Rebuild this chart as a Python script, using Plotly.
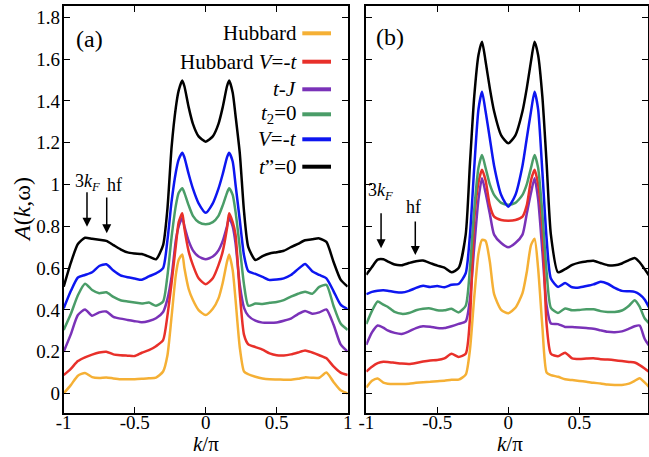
import plotly.graph_objects as go

W, H = 649, 457

# ---------------- panel (a) data ----------------
k_a = [-1, -0.95, -0.9, -0.85, -0.8, -0.75, -0.7, -0.65, -0.6, -0.55, -0.5, -0.45, -0.4, -0.35,
       -0.3, -0.27, -0.24, -0.21, -0.19, -0.165, -0.15, -0.12, -0.09, -0.05, 0,
       0.05, 0.09, 0.12, 0.15, 0.165, 0.19, 0.21, 0.24, 0.27, 0.3, 0.35, 0.4, 0.45, 0.5,
       0.55, 0.6, 0.65, 0.7, 0.75, 0.8, 0.85, 0.9, 0.95, 1.0]

hub_a = [0.0, 0.04, 0.085, 0.098, 0.078, 0.074, 0.077, 0.072, 0.068, 0.068, 0.068, 0.07, 0.073, 0.076,
         0.105, 0.18, 0.37, 0.57, 0.64, 0.665, 0.6, 0.5, 0.447, 0.399, 0.375,
         0.405, 0.455, 0.53, 0.63, 0.665, 0.59, 0.45, 0.22, 0.105, 0.092, 0.08, 0.072, 0.068, 0.067,
         0.066, 0.066, 0.07, 0.077, 0.075, 0.075, 0.1, 0.055, 0.015, 0.0]

hubV_a = [0.088, 0.118, 0.155, 0.173, 0.186, 0.196, 0.2, 0.187, 0.183, 0.181, 0.179, 0.195, 0.207, 0.226,
          0.255, 0.37, 0.53, 0.71, 0.82, 0.862, 0.79, 0.68, 0.614, 0.551, 0.523,
          0.551, 0.614, 0.68, 0.79, 0.862, 0.82, 0.76, 0.48, 0.28, 0.235, 0.222, 0.21, 0.192, 0.183,
          0.182, 0.187, 0.196, 0.206, 0.196, 0.183, 0.168, 0.13, 0.1, 0.088]

tJ_a = [0.2, 0.283, 0.375, 0.402, 0.372, 0.388, 0.392, 0.367, 0.358, 0.352, 0.346, 0.341, 0.347, 0.36,
        0.39, 0.45, 0.56, 0.735, 0.8, 0.84, 0.8, 0.73, 0.685, 0.655, 0.642,
        0.655, 0.685, 0.73, 0.8, 0.84, 0.8, 0.72, 0.52, 0.41, 0.372, 0.348, 0.339, 0.338, 0.34,
        0.348, 0.358, 0.38, 0.395, 0.382, 0.388, 0.402, 0.33, 0.235, 0.2]

t2_a = [0.304, 0.38, 0.47, 0.525, 0.495, 0.48, 0.484, 0.462, 0.446, 0.44, 0.435, 0.43, 0.435, 0.42,
        0.44, 0.56, 0.75, 0.9, 0.96, 0.982, 0.96, 0.9, 0.85, 0.82, 0.81,
        0.82, 0.85, 0.9, 0.96, 0.982, 0.95, 0.87, 0.7, 0.52, 0.42, 0.43, 0.428, 0.434, 0.438,
        0.447, 0.463, 0.477, 0.487, 0.477, 0.51, 0.52, 0.42, 0.335, 0.304]

V_a = [0.407, 0.49, 0.555, 0.567, 0.58, 0.61, 0.618, 0.588, 0.565, 0.556, 0.55, 0.544, 0.56, 0.575,
       0.6, 0.73, 0.92, 1.06, 1.12, 1.152, 1.13, 1.05, 0.98, 0.91, 0.865,
       0.91, 0.98, 1.05, 1.13, 1.152, 1.11, 1.0, 0.83, 0.66, 0.585, 0.572, 0.558, 0.543, 0.545,
       0.551, 0.567, 0.595, 0.62, 0.585, 0.567, 0.551, 0.49, 0.425, 0.403]

tpp_a = [0.511, 0.625, 0.715, 0.745, 0.74, 0.735, 0.73, 0.71, 0.69, 0.675, 0.67, 0.667, 0.655, 0.642,
         0.71, 0.88, 1.18, 1.37, 1.45, 1.497, 1.47, 1.37, 1.29, 1.23, 1.205,
         1.23, 1.29, 1.37, 1.47, 1.497, 1.44, 1.33, 1.15, 0.87, 0.7, 0.639, 0.657, 0.67, 0.676,
         0.683, 0.7, 0.716, 0.733, 0.738, 0.742, 0.725, 0.63, 0.545, 0.511]

# ---------------- panel (b) data ----------------
k_b = [-1, -0.96, -0.92, -0.88, -0.85, -0.8, -0.75, -0.7, -0.65, -0.6, -0.55, -0.5, -0.45, -0.4, -0.35,
       -0.3, -0.27, -0.24, -0.21, -0.185, -0.16, -0.13, -0.1, -0.05, 0,
       0.05, 0.1, 0.13, 0.16, 0.185, 0.21, 0.24, 0.27, 0.3, 0.35, 0.4, 0.45, 0.5, 0.55,
       0.6, 0.65, 0.7, 0.75, 0.8, 0.85, 0.89, 0.925, 0.96, 1.0]

hub_b = [0.029, 0.061, 0.072, 0.052, 0.047, 0.045, 0.045, 0.047, 0.051, 0.054, 0.056, 0.059, 0.061, 0.066, 0.066,
         0.09, 0.21, 0.46, 0.67, 0.735, 0.73, 0.63, 0.475, 0.40, 0.384,
         0.41, 0.48, 0.58, 0.71, 0.74, 0.6, 0.32, 0.1, 0.088, 0.08, 0.068, 0.064, 0.06, 0.056,
         0.051, 0.048, 0.043, 0.041, 0.041, 0.047, 0.06, 0.073, 0.053, 0.025]

hubV_b = [0.105, 0.128, 0.145, 0.152, 0.151, 0.147, 0.143, 0.141, 0.146, 0.153, 0.158, 0.16, 0.168, 0.19, 0.175,
          0.19, 0.36, 0.83, 1.01, 1.07, 1.02, 0.9, 0.846, 0.83, 0.827,
          0.83, 0.846, 0.9, 1.02, 1.07, 1.0, 0.8, 0.33, 0.19, 0.178, 0.195, 0.168, 0.165, 0.167,
          0.168, 0.164, 0.162, 0.159, 0.155, 0.151, 0.148, 0.136, 0.12, 0.098]

tJ_b = [0.233, 0.292, 0.325, 0.315, 0.302, 0.29, 0.285, 0.297, 0.313, 0.322, 0.319, 0.313, 0.313, 0.322, 0.333,
        0.345, 0.45, 0.7, 0.93, 1.03, 0.96, 0.86, 0.76, 0.72, 0.70,
        0.72, 0.76, 0.86, 0.96, 1.03, 0.93, 0.68, 0.42, 0.335, 0.332, 0.318, 0.318, 0.316, 0.313,
        0.31, 0.302, 0.295, 0.293, 0.297, 0.31, 0.322, 0.325, 0.262, 0.22]

t2_b = [0.332, 0.395, 0.44, 0.425, 0.415, 0.39, 0.381, 0.385, 0.398, 0.405, 0.407, 0.398, 0.398, 0.405, 0.388,
        0.42, 0.6, 0.88, 1.08, 1.141, 1.08, 1.0, 0.95, 0.912, 0.903,
        0.912, 0.95, 1.0, 1.08, 1.141, 1.08, 0.86, 0.58, 0.41, 0.385, 0.407, 0.398, 0.4, 0.403,
        0.403, 0.394, 0.39, 0.39, 0.397, 0.42, 0.446, 0.415, 0.36, 0.33]

V_b = [0.475, 0.486, 0.492, 0.494, 0.492, 0.486, 0.483, 0.491, 0.505, 0.515, 0.51, 0.514, 0.508, 0.52, 0.524,
       0.575, 0.76, 1.08, 1.36, 1.444, 1.35, 1.22, 1.09, 0.95, 0.894,
       0.95, 1.09, 1.22, 1.35, 1.444, 1.36, 1.06, 0.74, 0.55, 0.51, 0.528, 0.508, 0.507, 0.514,
       0.522, 0.534, 0.525, 0.505, 0.491, 0.489, 0.486, 0.474, 0.45, 0.40]

tpp_b = [0.568, 0.605, 0.64, 0.642, 0.632, 0.617, 0.614, 0.624, 0.633, 0.636, 0.624, 0.612, 0.602, 0.58, 0.6,
         0.76, 1.1, 1.42, 1.62, 1.683, 1.59, 1.46, 1.35, 1.235, 1.197,
         1.235, 1.35, 1.46, 1.59, 1.683, 1.62, 1.42, 1.1, 0.76, 0.58, 0.595, 0.615, 0.626, 0.632,
         0.635, 0.624, 0.614, 0.613, 0.622, 0.638, 0.648, 0.628, 0.595, 0.555]

labels = ["Hubbard", "Hubbard <i>V</i>=-<i>t</i>", "<i>t</i>-<i>J</i>",
          "<i>t</i><sub>2</sub>=0", "<i>V</i>=-<i>t</i>", "<i>t</i>\u201d=0"]
colors = ["#f5b035", "#e8302a", "#7a32b8", "#4a9d68", "#0d16f0", "#000000"]

y_ticks = [0, 0.2, 0.4, 0.6, 0.8, 1.0, 1.2, 1.4, 1.6, 1.8]
y_ticktext = ["0", "0.2", "0.4", "0.6", "0.8", "1", "1.2", "1.4", "1.6", "1.8"]
x_ticks = [-1, -0.5, 0, 0.5, 1]
x_ticktext = ["-1", "-0.5", "0", "0.5", "1"]

FONT = "Liberation Serif"

series_a = [hub_a, hubV_a, tJ_a, t2_a, V_a, tpp_a]
series_b = [hub_b, hubV_b, tJ_b, t2_b, V_b, tpp_b]
draw_order = [0, 2, 1, 3, 4, 5]

fig = go.Figure()
for i in draw_order:
    fig.add_trace(go.Scatter(x=k_a, y=series_a[i], mode="lines", name=labels[i],
                             line=dict(color=colors[i], width=2.5, shape="spline", smoothing=0.6),
                             xaxis="x", yaxis="y", showlegend=False, hoverinfo="skip"))
for i in draw_order:
    fig.add_trace(go.Scatter(x=k_b, y=series_b[i], mode="lines", name=labels[i],
                             line=dict(color=colors[i], width=2.5, shape="spline", smoothing=0.6),
                             xaxis="x2", yaxis="y2", showlegend=False, hoverinfo="skip"))

def px(x):
    return x / W

def py(y):
    return 1 - y / H

ydom = [py(412.7), py(6)]

def axis(**kw):
    d = dict(showline=True, linewidth=2, linecolor="black", mirror="ticks",
             ticks="inside", ticklen=6, tickwidth=1, tickcolor="black",
             showgrid=False, zeroline=False, automargin=False,
             tickfont=dict(family=FONT, size=19, color="black"))
    d.update(kw)
    return d

fig.update_layout(
    template="none",
    width=W, height=H, margin=dict(l=0, r=0, t=0, b=0, pad=0),
    paper_bgcolor="white", plot_bgcolor="white",
    font=dict(family=FONT, color="black", size=19),
    xaxis=axis(domain=[px(63.7), px(347.7)], range=[-1, 1], anchor="y",
               tickvals=x_ticks, ticktext=x_ticktext, ticklabelstandoff=-9),
    yaxis=axis(domain=ydom, range=[-0.092, 1.854], anchor="x",
               tickvals=y_ticks, ticktext=y_ticktext, ticklabelstandoff=-2),
    xaxis2=axis(domain=[px(366.3), px(648.3)], range=[-1, 0.986], anchor="y2",
                tickvals=x_ticks, ticktext=x_ticktext, ticklabelstandoff=-9),
    yaxis2=axis(domain=ydom, range=[-0.092, 1.854], anchor="x2",
                tickvals=y_ticks, showticklabels=False),
)

ann = []
# legend (text right aligned, sample line on the right)
leg_rows = [33.3, 61.7, 89.3, 114.3, 139.3, 166.7]
shapes = []
for i, yy in enumerate(leg_rows):
    ann.append(dict(xref="paper", yref="paper", x=px(299), y=py(yy), text=labels[i],
                    showarrow=False, xanchor="right", yanchor="middle",
                    font=dict(family=FONT, size=21, color="black")))
    shapes.append(dict(type="line", xref="paper", yref="paper",
                       x0=px(302.3), x1=px(331), y0=py(yy), y1=py(yy),
                       line=dict(color=colors[i], width=4)))

# panel labels
ann.append(dict(xref="paper", yref="paper", x=px(90), y=py(39), text="(a)", showarrow=False,
                xanchor="center", yanchor="middle", font=dict(family=FONT, size=24)))
ann.append(dict(xref="paper", yref="paper", x=px(390), y=py(37), text="(b)", showarrow=False,
                xanchor="center", yanchor="middle", font=dict(family=FONT, size=24)))

# axis titles
ann.append(dict(xref="paper", yref="paper", x=px(22), y=py(210), text="<i>A</i>(<i>k</i>,\u03c9)",
                showarrow=False, textangle=-90, xanchor="center", yanchor="middle",
                font=dict(family=FONT, size=24)))
ann.append(dict(xref="paper", yref="paper", x=px(206), y=py(444), text="<i>k</i>/\u03c0",
                showarrow=False, xanchor="center", yanchor="middle", font=dict(family=FONT, size=21)))
ann.append(dict(xref="paper", yref="paper", x=px(510), y=py(444), text="<i>k</i>/\u03c0",
                showarrow=False, xanchor="center", yanchor="middle", font=dict(family=FONT, size=21)))

# 3kF / hf labels
ann.append(dict(xref="paper", yref="paper", x=px(87.5), y=py(182), text="3<i>k</i><sub><i>F</i></sub>",
                showarrow=False, xanchor="center", yanchor="middle", font=dict(family=FONT, size=18)))
ann.append(dict(xref="paper", yref="paper", x=px(114), y=py(185), text="hf",
                showarrow=False, xanchor="center", yanchor="middle", font=dict(family=FONT, size=18)))
ann.append(dict(xref="paper", yref="paper", x=px(380), y=py(191), text="3<i>k</i><sub><i>F</i></sub>",
                showarrow=False, xanchor="center", yanchor="middle", font=dict(family=FONT, size=18)))
ann.append(dict(xref="paper", yref="paper", x=px(413), y=py(207), text="hf",
                showarrow=False, xanchor="center", yanchor="middle", font=dict(family=FONT, size=18)))

# arrows (tip at data position, tail above)
arrows = [("x", "y", -0.836, 0.798, 0.97), ("x", "y", -0.697, 0.767, 0.945),
          ("x2", "y2", -0.896, 0.695, 0.87), ("x2", "y2", -0.655, 0.663, 0.83)]
for xr, yr, xk, ytip, ytail in arrows:
    ann.append(dict(xref=xr, yref=yr, x=xk, y=ytip, axref=xr, ayref=yr, ax=xk, ay=ytail,
                    text="", showarrow=True, arrowhead=2, arrowsize=1.2, arrowwidth=1.5,
                    arrowcolor="black"))

fig.update_layout(annotations=ann, shapes=shapes)
fig.write_html("out.html", config={"displayModeBar": False},
               post_script="document.body.style.margin='0';document.body.style.overflow='hidden';")
